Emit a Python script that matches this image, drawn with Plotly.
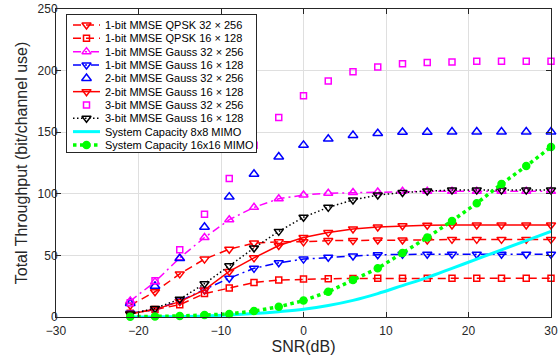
import plotly.graph_objects as go

# ---------------- data ----------------
snr_db = [-21, -18, -15, -12, -9, -6, -3, 0, 3, 6, 9, 12, 15, 18, 21, 24, 27, 30]

qpsk1_32x256 = [9.5, 20.5, 35, 47, 55, 60, 61, 61, 62, 62, 62.5, 62.5, 62.5, 63, 63, 63, 63, 63]
qpsk1_16x128 = [3, 6, 10, 19, 23.5, 28, 30, 30.8, 31, 31.3, 31.4, 31.4, 31.4, 31.4, 31.4, 31.4, 31.4, 31.4]
gauss1_32x256 = [13, 28.5, 48, 64.5, 79, 89, 96, 99, 100.5, 101, 101.5, 102, 102, 102, 102, 102, 102, 102]
gauss1_16x128 = [3, 6, 13, 22, 31.5, 39.5, 44, 47, 48.5, 49.5, 50.5, 51, 51, 51, 51, 51, 51, 51]
gauss2_32x256 = [11, 25, 47.5, 73, 97.5, 116, 130, 139.5, 144.5, 147.5, 149, 150, 150, 150.3, 150.3, 150.3, 150.3, 150.3]
gauss2_16x128 = [2.5, 6.2, 12.5, 22, 37, 48, 58, 64.5, 68.5, 71.5, 73, 74, 74.5, 74.7, 74.7, 74.7, 74.7, 74.7]
gauss3_32x256 = [11.5, 29.5, 54.5, 83.5, 112.5, 139.5, 162, 179.5, 191.5, 199, 203, 205.5, 206.5, 207, 207.5, 207.5, 207.5, 207.5]
gauss3_16x128 = [2.5, 7, 14.5, 27, 41.5, 56, 69.5, 81, 89, 95, 99, 101, 102.3, 103, 103, 103, 103, 103]
capacity_8x8 = [0, 0.1, 0.3, 0.8, 1.7, 2.8, 4.3, 6.2, 9.3, 13.5, 19, 25.5, 32, 39.5, 47, 54.5, 62, 69.5]
capacity_16x16 = [0.3, 0.4, 0.8, 1.6, 2.5, 4.8, 8.3, 13.3, 20.5, 30, 39.5, 52, 64.5, 78, 92.3, 108, 122.5, 138]

legend_labels = [
    "1-bit MMSE QPSK 32 \u00d7 256",
    "1-bit MMSE QPSK 16 \u00d7 128",
    "1-bit MMSE Gauss 32 \u00d7 256",
    "1-bit MMSE Gauss 16 \u00d7 128",
    "2-bit MMSE Gauss 32 \u00d7 256",
    "2-bit MMSE Gauss 16 \u00d7 128",
    "3-bit MMSE Gauss 32 \u00d7 256",
    "3-bit MMSE Gauss 16 \u00d7 128",
    "System Capacity 8x8 MIMO",
    "System Capacity 16x16 MIMO",
]

x_ticks = [-30, -20, -10, 0, 10, 20, 30]
y_ticks = [0, 50, 100, 150, 200, 250]

# ---------------- styles ----------------
RED, MAG, BLUE, BLACK, CYAN, GREEN = "#ff0000", "#ff00ff", "#0000ff", "#000000", "#00ffff", "#00ff00"
DASH = "8px,5px"
DASHDOT = "8px,4px,2px,4px"
DOT = "1.5px,2.5px"
GDOT = "3.5px,3.5px"

styles = [
    dict(mode="lines+markers", color=RED, dash=DASH, width=1.5, symbol="triangle-down-open", size=8),
    dict(mode="lines+markers", color=RED, dash=DASH, width=1.5, symbol="square-open", size=6),
    dict(mode="lines+markers", color=MAG, dash=DASHDOT, width=1.5, symbol="triangle-up-open", size=8),
    dict(mode="lines+markers", color=BLUE, dash=DASHDOT, width=1.5, symbol="triangle-down-open", size=8),
    dict(mode="markers", color=BLUE, dash="solid", width=1.5, symbol="triangle-up-open", size=8.5),
    dict(mode="lines+markers", color=RED, dash="solid", width=1.5, symbol="triangle-down-open", size=8),
    dict(mode="markers", color=MAG, dash="solid", width=1.5, symbol="square-open", size=6),
    dict(mode="lines+markers", color=BLACK, dash=DOT, width=1.5, symbol="triangle-down-open", size=8),
    dict(mode="lines", color=CYAN, dash="solid", width=3, symbol="circle", size=0),
    dict(mode="lines+markers", color=GREEN, dash=GDOT, width=3.5, symbol="circle", size=7),
]
series = [qpsk1_32x256, qpsk1_16x128, gauss1_32x256, gauss1_16x128, gauss2_32x256,
          gauss2_16x128, gauss3_32x256, gauss3_16x128, capacity_8x8, capacity_16x16]

fig = go.Figure()
for name, ys, st in zip(legend_labels, series, styles):
    shape = "spline" if st["color"] == CYAN else "linear"
    fig.add_trace(go.Scatter(
        x=snr_db, y=ys, name=name, mode=st["mode"], cliponaxis=False, showlegend=False,
        line=dict(color=st["color"], width=st["width"], dash=st["dash"], shape=shape),
        marker=dict(symbol=st["symbol"], size=st["size"], color=st["color"],
                    line=dict(color=st["color"], width=1.5)),
    ))

# ---------------- custom legend (drawn in a small overlaid subplot) ----------------
W, H = 189, 137
row0, row_step = 10, 13.33
for i, (name, st) in enumerate(zip(legend_labels, styles)):
    yrow = row0 + row_step * i
    if "lines" in st["mode"]:
        fig.add_trace(go.Scatter(
            x=[6, 33], y=[yrow, yrow], mode="lines", xaxis="x2", yaxis="y2",
            showlegend=False, hoverinfo="skip",
            line=dict(color=st["color"], width=st["width"], dash=st["dash"]),
        ))
    if "markers" in st["mode"]:
        fig.add_trace(go.Scatter(
            x=[19.5], y=[yrow], mode="markers", xaxis="x2", yaxis="y2",
            showlegend=False, hoverinfo="skip",
            marker=dict(symbol=st["symbol"], size=st["size"], color=st["color"],
                        line=dict(color=st["color"], width=1.5)),
        ))
    fig.add_annotation(x=36, y=yrow, xref="x2", yref="y2", text=name, showarrow=False,
                       xanchor="left", yanchor="middle",
                       font=dict(family="Liberation Sans, Arial", size=11, color="#000000"))

AX = "#262626"
GRID = "#dfdfdf"
ml, mr, mt, mb = 56, 7, 9, 43
fw, fh = 558, 360
pw, ph = fw - ml - mr, fh - mt - mb
leg_left, leg_top = 67, 15

fig.update_layout(
    width=fw, height=fh,
    margin=dict(l=ml, r=mr, t=mt, b=mb, pad=0),
    paper_bgcolor="white", plot_bgcolor="white",
    font=dict(family="Liberation Sans, Arial", size=12, color=AX),
    showlegend=False,
    xaxis=dict(range=[-30, 30], tickvals=x_ticks, ticks="inside", ticklen=5, tickwidth=1,
               tickcolor=AX, showline=True, linecolor=AX, linewidth=1, mirror="ticks",
               showgrid=True, gridcolor=GRID, gridwidth=1, zeroline=False,
               tickfont=dict(size=12, color=AX), automargin=False, ticklabelstandoff=3,
               title=dict(text="SNR(dB)", font=dict(size=16, color=AX), standoff=0)),
    yaxis=dict(range=[0, 250], tickvals=y_ticks, ticks="inside", ticklen=5, tickwidth=1,
               tickcolor=AX, showline=True, linecolor=AX, linewidth=1, mirror="ticks",
               showgrid=True, gridcolor=GRID, gridwidth=1, zeroline=False,
               tickfont=dict(size=12, color=AX), automargin=False, ticklabelstandoff=-5,
               title=dict(text="Total Throughput (bit/channel use)", font=dict(size=16, color=AX), standoff=5)),
    xaxis2=dict(domain=[(leg_left - ml) / pw, (leg_left + W - ml) / pw], range=[0, W],
                anchor="y2", showline=True, mirror=True, linecolor=AX, linewidth=1,
                showgrid=False, zeroline=False, showticklabels=False, ticks="", fixedrange=True),
    yaxis2=dict(domain=[(fh - mb - (leg_top + H)) / ph, (fh - mb - leg_top) / ph], range=[H, 0],
                anchor="x2", showline=True, mirror=True, linecolor=AX, linewidth=1,
                showgrid=False, zeroline=False, showticklabels=False, ticks="", fixedrange=True),
)

fig.write_html("out.html", config={"displayModeBar": False},
               post_script="document.body.style.margin='0';")
